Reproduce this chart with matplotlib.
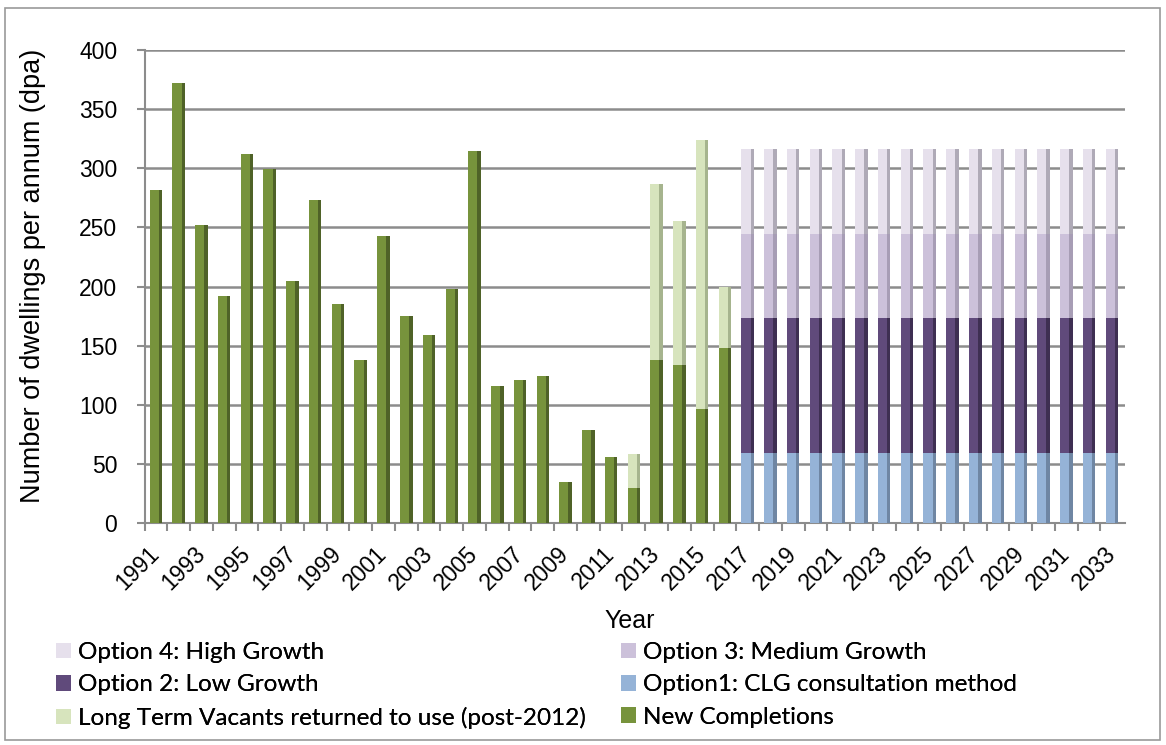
import matplotlib.pyplot as plt
from matplotlib.patches import Patch, Rectangle

years = list(range(1991, 2034))
new_completions = [282, 372, 252, 192, 312, 299, 205, 273, 185, 138, 243, 175, 159,
                   198, 315, 116, 121, 124, 35, 79, 56, 30, 138, 134, 96, 148] + [0] * 17
vacants = [0] * 21 + [28, 149, 121, 228, 52] + [0] * 17
option1 = [0] * 26 + [59] * 17
option2 = [0] * 26 + [114] * 17
option3 = [0] * 26 + [71] * 17
option4 = [0] * 26 + [72] * 17

series = [
    ("New Completions", new_completions, "#77933C", "#4F6228"),
    ("Long Term Vacants returned to use (post-2012)", vacants, "#D7E4BD", "#A6B48E"),
    ("Option1: CLG consultation method", option1, "#95B3D7", "#6F86A3"),
    ("Option 2: Low Growth", option2, "#604A7B", "#3E2F52"),
    ("Option 3: Medium Growth", option3, "#CCC1DA", "#A79DB5"),
    ("Option 4: High Growth", option4, "#E6E0EC", "#AFAAB7"),
]

plt.rcParams['font.family'] = ['Liberation Sans', 'DejaVu Sans']

fig = plt.figure(figsize=(11.66, 7.45), dpi=100)
ax = fig.add_axes([145 / 1166, 1 - 523 / 745, 980 / 1166, 473 / 745])

xs = list(range(len(years)))
front = 0.40
side = 0.15
bottom = [0] * len(years)
for name, vals, col, dark in series:
    fx = [x - side / 2 for x in xs]
    sx = [x + front / 2 for x in xs]
    ax.bar(fx, vals, width=front, bottom=bottom, color=col, linewidth=0, zorder=3)
    ax.bar(sx, vals, width=side, bottom=bottom, color=dark, linewidth=0, zorder=3)
    bottom = [b + v for b, v in zip(bottom, vals)]

ax.set_xlim(-0.48, 42.58)
ax.set_ylim(0, 400)
ax.set_yticks(range(0, 401, 50))
ax.grid(axis='y', color='#8C8C8C', linewidth=1.8, zorder=0)
ax.set_axisbelow(True)

for s in ['top', 'right']:
    ax.spines[s].set_visible(False)
for s in ['left', 'bottom']:
    ax.spines[s].set_color('#8C8C8C')
    ax.spines[s].set_linewidth(1.5)

ax.tick_params(axis='y', length=6, color='#8C8C8C', width=1.5, labelsize=16.5, pad=14)
ax.set_xticks(xs[::2])
ax.set_xticklabels([str(y) for y in years[::2]], rotation=45, ha='right',
                   va='center', rotation_mode='anchor', fontsize=16.5)
ax.set_xticks([x + 0.5 for x in xs[:-1]] + [-0.48], minor=True)
ax.tick_params(axis='x', which='major', length=0, pad=20)
ax.tick_params(axis='x', which='minor', length=6, color='#8C8C8C', width=1.5)

fig.text(33 / 1166, 1 - 276 / 745, 'Number of dwellings per annum (dpa)',
         rotation=90, ha='center', va='center', fontsize=19.5)
fig.text(630 / 1166, 1 - 621 / 745, 'Year', ha='center', va='center', fontsize=18)

colors = {name: col for name, vals, col, dark in series}
left_names = ["Option 4: High Growth", "Option 2: Low Growth",
              "Long Term Vacants returned to use (post-2012)"]
right_names = ["Option 3: Medium Growth", "Option1: CLG consultation method",
               "New Completions"]
for names, x0 in [(left_names, 56 / 1166), (right_names, 621 / 1166)]:
    handles = [Patch(facecolor=colors[n], edgecolor='none', label=n) for n in names]
    leg = fig.legend(handles=handles, loc='upper left', bbox_to_anchor=(x0, 1 - 642 / 745),
                     frameon=False, borderpad=0, borderaxespad=0, handlelength=0.62,
                     handleheight=0.62, handletextpad=0.3, labelspacing=0.47,
                     prop={'family': 'Lato', 'size': 17.5})
    fig.add_artist(leg)

fig.patches.append(Rectangle((5 / 1166, 5 / 745), 1155 / 1166, 732 / 745,
                             transform=fig.transFigure, fill=False,
                             edgecolor='#9A9A9A', linewidth=1.2))

fig.savefig('out.png', dpi=100)
